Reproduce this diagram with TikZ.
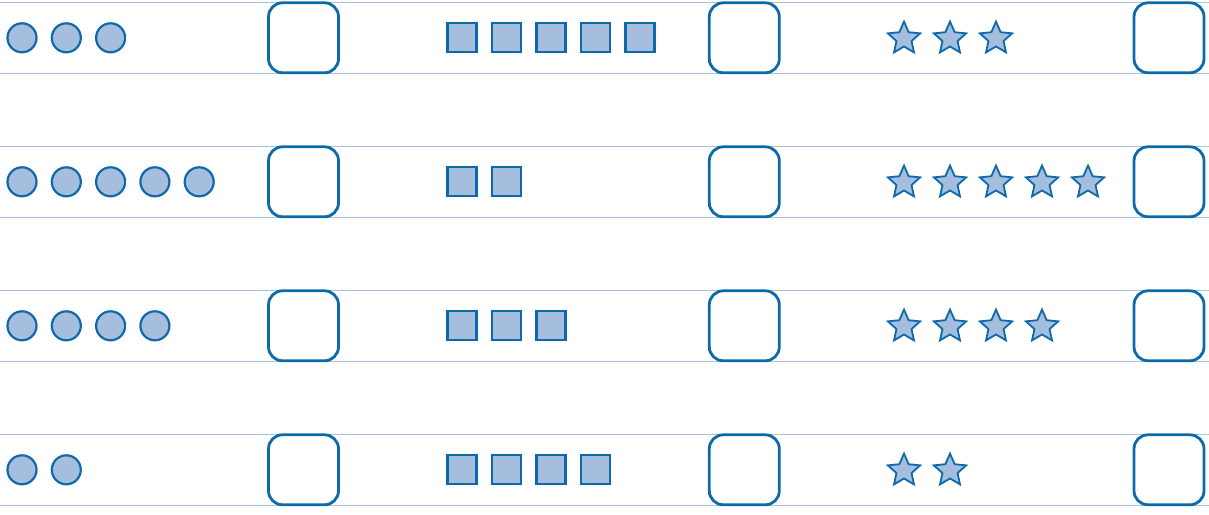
\documentclass[tikz,border=0pt]{standalone}
\usetikzlibrary{shapes.geometric}
\definecolor{shapefill}{RGB}{166,190,222}
\definecolor{shapeline}{RGB}{14,105,168}
\definecolor{ruleline}{RGB}{172,194,222}
\tikzset{
  dot/.style={circle,draw=shapeline,fill=shapefill,line width=2.2pt,minimum size=29pt,inner sep=0pt},
  sq/.style={rectangle,draw=shapeline,fill=shapefill,line width=2.2pt,minimum size=29pt,inner sep=0pt},
  st/.style={star,star points=5,star point ratio=2.15,draw=shapeline,fill=shapefill,line width=1.8pt,minimum size=34pt,inner sep=0pt},
  answerbox/.style={rectangle,draw=shapeline,line width=2.8pt,rounded corners=14pt,minimum width=70pt,minimum height=70pt,inner sep=0pt},
  rule/.style={draw=ruleline,line width=1.6pt}
}
\begin{document}
\begin{tikzpicture}[x=1pt,y=-1pt]
\useasboundingbox (0,0) rectangle (1209,514);
\foreach \r/\nc/\ns/\nt in {0/3/5/3,1/5/2/5,2/4/3/4,3/2/4/2}{
  \pgfmathsetmacro{\yc}{37.8+144*\r}
  \pgfmathsetmacro{\ytop}{2.3+144*\r}
  \pgfmathsetmacro{\ybot}{73.3+144*\r}
  \coordinate (L\r a) at (0,\ytop);
  \coordinate (R\r a) at (1209,\ytop);
  \coordinate (L\r b) at (0,\ybot);
  \coordinate (R\r b) at (1209,\ybot);
  \draw[rule] (L\r a) -- (R\r a);
  \draw[rule] (L\r b) -- (R\r b);
  \foreach \i in {1,...,\nc}{
    \node[dot] (c\r-\i) at ({22+44.3*(\i-1)},\yc) {};
  }
  \foreach \i in {1,...,\ns}{
    \node[sq] (s\r-\i) at ({462+44.5*(\i-1)},\yc) {};
  }
  \foreach \i in {1,...,\nt}{
    \node[st] (t\r-\i) at ({904+46*(\i-1)},{\yc+0.8}) {};
  }
  \node[answerbox] (b\r-1) at (303.5,\yc) {};
  \node[answerbox] (b\r-2) at (744.3,\yc) {};
  \node[answerbox] (b\r-3) at (1169,\yc) {};
}
\end{tikzpicture}
\end{document}
